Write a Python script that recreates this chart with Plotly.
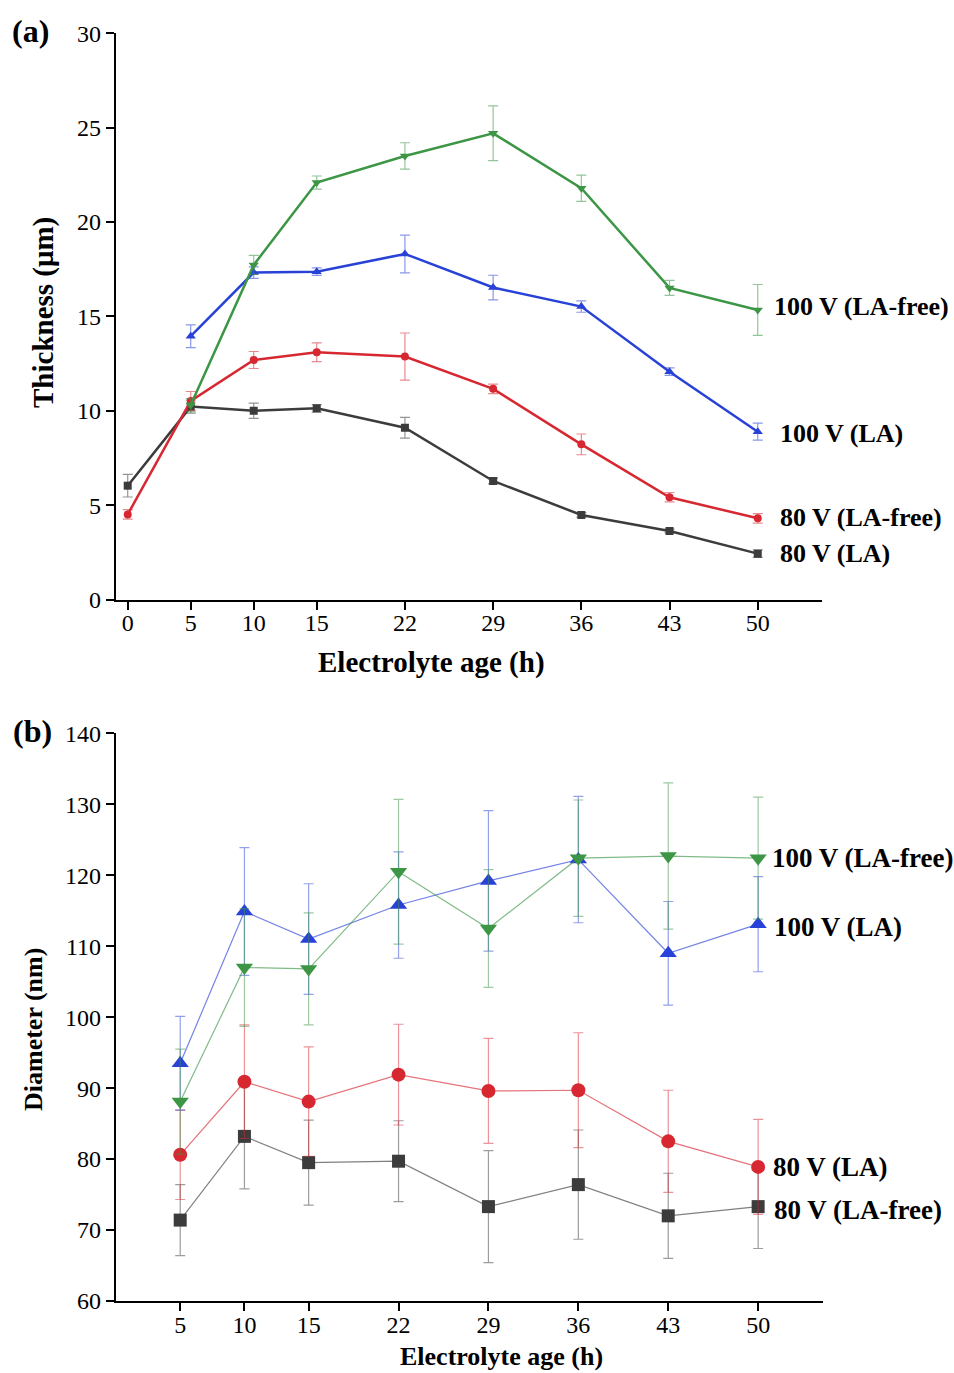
import plotly.graph_objects as go

# ---------------- Panel (a): thickness ----------------
ages_a = [0, 5, 10, 15, 22, 29, 36, 43, 50]
ages_a_100 = [5, 10, 15, 22, 29, 36, 43, 50]

thk_80_la = [6.03, 10.22, 10.0, 10.13, 9.1, 6.28, 4.48, 3.63, 2.43]
thk_80_la_err = [0.6, 0.35, 0.4, 0.2, 0.55, 0.15, 0.12, 0.1, 0.2]
thk_80_free = [4.51, 10.52, 12.69, 13.1, 12.87, 11.16, 8.22, 5.42, 4.30]
thk_80_free_err = [0.25, 0.5, 0.45, 0.5, 1.25, 0.25, 0.55, 0.25, 0.25]
thk_100_la = [13.95, 17.32, 17.37, 18.31, 16.53, 15.52, 12.07, 8.89]
thk_100_la_err = [0.6, 0.3, 0.2, 1.0, 0.65, 0.3, 0.2, 0.45]
thk_100_free = [10.3, 17.73, 22.09, 23.5, 24.7, 21.79, 16.51, 15.34]
thk_100_free_err = [0.35, 0.5, 0.35, 0.7, 1.45, 0.7, 0.4, 1.35]

# ---------------- Panel (b): diameter ----------------
ages_b = [5, 10, 15, 22, 29, 36, 43, 50]
dia_80_la = [80.6, 90.9, 88.1, 91.9, 89.6, 89.7, 82.5, 78.9]
dia_80_la_err = [6.3, 8.0, 7.7, 7.1, 7.4, 8.1, 7.2, 6.7]
dia_80_free = [71.4, 83.2, 79.5, 79.7, 73.3, 76.4, 72.0, 73.3]
dia_80_free_err = [5.0, 7.4, 6.0, 5.7, 7.9, 7.7, 6.0, 5.9]
dia_100_la = [93.5, 114.9, 111.0, 115.8, 119.2, 122.2, 109.0, 113.1]
dia_100_la_err = [6.6, 9.0, 7.8, 7.5, 9.9, 8.9, 7.3, 6.7]
dia_100_free = [88.1, 107.0, 106.8, 120.5, 112.5, 122.4, 122.7, 122.4]
dia_100_free_err = [7.4, 8.3, 7.9, 10.2, 8.3, 8.2, 10.3, 8.6]

ticks_a = [0, 5, 10, 15, 22, 29, 36, 43, 50]
ticks_b = [5, 10, 15, 22, 29, 36, 43, 50]

BLACK = "rgb(60,60,60)"
RED = "rgb(215,40,50)"
BLUE = "rgb(40,65,215)"
GREEN = "rgb(60,150,70)"

def light(c, a):
    return c.replace("rgb", "rgba").replace(")", f",{a})")

FONT = "Liberation Serif"

fig = go.Figure()

series_a = [
    (ages_a, thk_80_la, thk_80_la_err, BLACK, "square", 8, "80 V (LA)"),
    (ages_a, thk_80_free, thk_80_free_err, RED, "circle", 8, "80 V (LA-free)"),
    (ages_a_100, thk_100_la, thk_100_la_err, BLUE, "triangle-up", 9, "100 V (LA)"),
    (ages_a_100, thk_100_free, thk_100_free_err, GREEN, "triangle-down", 9, "100 V (LA-free)"),
]
for x, y, e, c, sym, sz, name in series_a:
    fig.add_trace(go.Scatter(
        x=x, y=y, mode="lines+markers", name=name,
        line=dict(color=c, width=2.5),
        marker=dict(symbol=sym, size=sz, color=c),
        error_y=dict(type="data", array=e, visible=True, color=light(c, 0.55),
                     thickness=1.2, width=5),
        xaxis="x", yaxis="y", showlegend=False))

series_b = [
    (ages_b, dia_80_free, dia_80_free_err, BLACK, "square", 13, "80 V (LA-free)"),
    (ages_b, dia_80_la, dia_80_la_err, RED, "circle", 14, "80 V (LA)"),
    (ages_b, dia_100_la, dia_100_la_err, BLUE, "triangle-up", 15, "100 V (LA)"),
    (ages_b, dia_100_free, dia_100_free_err, GREEN, "triangle-down", 15, "100 V (LA-free)"),
]
for x, y, e, c, sym, sz, name in series_b:
    fig.add_trace(go.Scatter(
        x=x, y=y, mode="lines+markers", name=name,
        line=dict(color=light(c, 0.65), width=1.2),
        marker=dict(symbol=sym, size=sz, color=c),
        error_y=dict(type="data", array=e, visible=True, color=light(c, 0.5),
                     thickness=1.2, width=5),
        xaxis="x2", yaxis="y2", showlegend=False))

W, H = 954, 1373
axis_common = dict(showline=True, linecolor="black", linewidth=2.2, ticks="outside",
                   ticklen=8, tickwidth=2, tickcolor="black", showgrid=False,
                   zeroline=False, automargin=False,
                   tickfont=dict(family=FONT, size=24, color="black"))

fig.update_layout(
    template="none",
    width=W, height=H, margin=dict(l=0, r=0, t=0, b=0, pad=0),
    paper_bgcolor="white", plot_bgcolor="white",
    font=dict(family=FONT, color="black"),
    xaxis=dict(domain=[116 / W, 822 / W], range=[-0.93, 55.1], tickmode="array",
               tickvals=ticks_a, ticktext=[str(t) for t in ticks_a], anchor="y",
               ticklabelstandoff=-7, **axis_common),
    yaxis=dict(domain=[1 - 599.5 / H, 1 - 33.3 / H], range=[0, 30], tickmode="array",
               tickvals=[0, 5, 10, 15, 20, 25, 30], anchor="x", **axis_common),
    xaxis2=dict(domain=[116 / W, 823 / W], range=[0, 55.05], tickmode="array",
                tickvals=ticks_b, ticktext=[str(t) for t in ticks_b], anchor="y2",
                ticklabelstandoff=-7, **axis_common),
    yaxis2=dict(domain=[1 - 1301 / H, 1 - 733.3 / H], range=[60, 140], tickmode="array",
                tickvals=[60, 70, 80, 90, 100, 110, 120, 130, 140], anchor="x2",
                **axis_common),
)

ann = []
def paper_text(txt, px, py, size, angle=0, xanchor="center"):
    ann.append(dict(text=txt, x=px / W, y=1 - py / H, xref="paper", yref="paper",
                    showarrow=False, textangle=angle, xanchor=xanchor, yanchor="middle",
                    font=dict(family=FONT, size=size, color="black")))

paper_text("<b>(a)</b>", 31, 31, 32)
paper_text("<b>(b)</b>", 32, 731, 32)
paper_text("<b>Thickness (μm)</b>", 43, 313, 29, angle=-90)
paper_text("<b>Electrolyte age (h)</b>", 431, 662, 29)
paper_text("<b>Diameter (nm)</b>", 33, 1030, 26, angle=-90)
paper_text("<b>Electrolyte age (h)</b>", 501, 1356, 26)

labels_a = [("100 V (LA-free)", 51.1, 15.5), ("100 V (LA)", 51.6, 8.82),
            ("80 V (LA-free)", 51.6, 4.32), ("80 V (LA)", 51.6, 2.46)]
for t, x, y in labels_a:
    ann.append(dict(text=f"<b>{t}</b>", x=x, y=y, xref="x", yref="y", showarrow=False,
                    xanchor="left", yanchor="middle",
                    font=dict(family=FONT, size=26, color="black")))
labels_b = [("100 V (LA-free)", 50.95, 122.4), ("100 V (LA)", 51.1, 112.7),
            ("80 V (LA)", 51.0, 78.9), ("80 V (LA-free)", 51.1, 72.8)]
for t, x, y in labels_b:
    ann.append(dict(text=f"<b>{t}</b>", x=x, y=y, xref="x2", yref="y2", showarrow=False,
                    xanchor="left", yanchor="middle",
                    font=dict(family=FONT, size=27, color="black")))
fig.update_layout(annotations=ann)

fig.write_html("out.html")
